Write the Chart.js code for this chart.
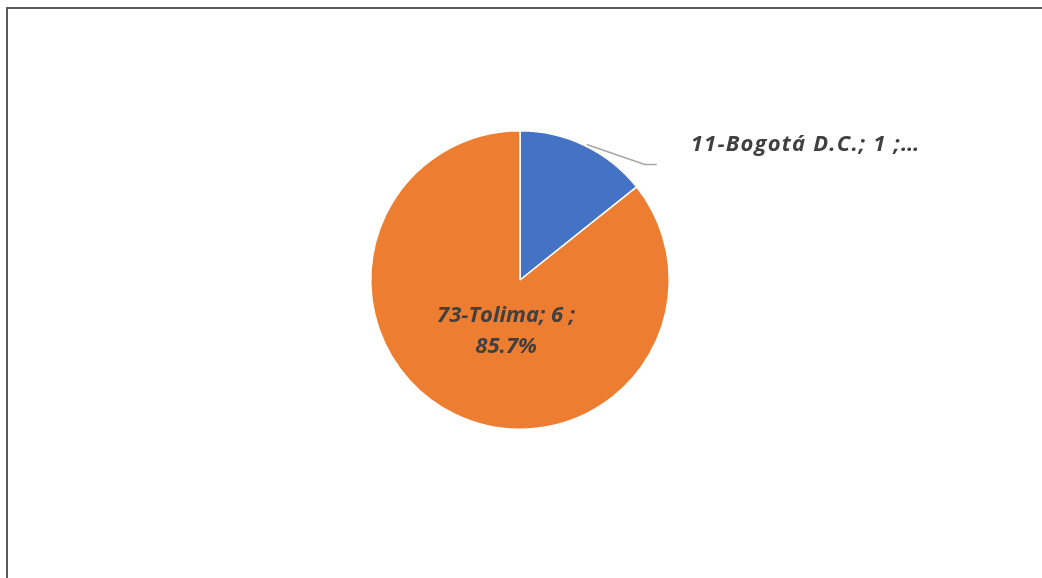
<!DOCTYPE html>
<html lang="es">
<head>
    <meta charset="UTF-8">
    <title>Casos por departamento</title>
    <script src="https://cdn.jsdelivr.net/npm/chart.js"></script>
    <style>
        body { margin: 0; background: #fff; overflow: hidden; }
        .wrap { position: relative; width: 1042px; height: 578px; }
        .frame {
            position: absolute; left: 6px; top: 7px; right: -10px; bottom: -10px;
            border: 2px solid #5b5b5b; pointer-events: none;
        }
    </style>
</head>
<body>
    <div class="wrap">
        <canvas id="pie" width="1042" height="578"></canvas>
        <div class="frame"></div>
    </div>

    <script>
        const categories = ['11-Bogotá D.C.', '73-Tolima'];
        const values = [1, 6];
        const colors = ['#4472C4', '#ED7D31'];

        const total = values.reduce((a, b) => a + b, 0);
        const labelFont = 'italic bold 22px "Open Sans", Lato, sans-serif';

        // draws the data labels (outside with leader line for small slice, inside for big one)
        const dataLabels = {
            id: 'dataLabels',
            afterDatasetsDraw(chart) {
                const ctx = chart.ctx;
                const arcs = chart.getDatasetMeta(0).data;
                ctx.save();
                ctx.font = labelFont;
                ctx.fillStyle = '#404040';
                ctx.textBaseline = 'middle';
                arcs.forEach((arc, i) => {
                    const pct = (values[i] / total * 100).toFixed(1) + '%';
                    const mid = (arc.startAngle + arc.endAngle) / 2;
                    if (values[i] / total < 0.3) {
                        const x0 = arc.x + Math.cos(mid) * arc.outerRadius;
                        const y0 = arc.y + Math.sin(mid) * arc.outerRadius;
                        ctx.strokeStyle = '#a6a6a6';
                        ctx.lineWidth = 1.5;
                        ctx.beginPath();
                        ctx.moveTo(x0 + 2, y0 - 1);
                        ctx.lineTo(x0 + 60, y0 + 19);
                        ctx.lineTo(x0 + 72, y0 + 19);
                        ctx.stroke();
                        ctx.textAlign = 'left';
                        ctx.letterSpacing = '1.2px';
                        ctx.fillText(categories[i] + '; ' + values[i] + ' ;…', x0 + 106, y0 - 1);
                        ctx.letterSpacing = '0px';
                    } else {
                        const r = arc.outerRadius * 0.4;
                        const cx = arc.x + Math.cos(mid) * r + 12;
                        const cy = arc.y + Math.sin(mid) * r - 18;
                        ctx.textAlign = 'center';
                        ctx.fillText(categories[i] + '; ' + values[i] + ' ;', cx, cy);
                        ctx.fillText(pct, cx, cy + 31);
                    }
                });
                ctx.restore();
            }
        };

        new Chart(document.getElementById('pie'), {
            type: 'pie',
            data: {
                labels: categories,
                datasets: [{
                    data: values,
                    backgroundColor: colors,
                    borderColor: '#ffffff',
                    borderWidth: 1.5
                }]
            },
            options: {
                responsive: false,
                animation: false,
                layout: { padding: { top: 130, bottom: 148, left: 370, right: 372 } },
                plugins: {
                    legend: { display: false },
                    tooltip: { enabled: false }
                }
            },
            plugins: [dataLabels]
        });
    </script>
</body>
</html>
